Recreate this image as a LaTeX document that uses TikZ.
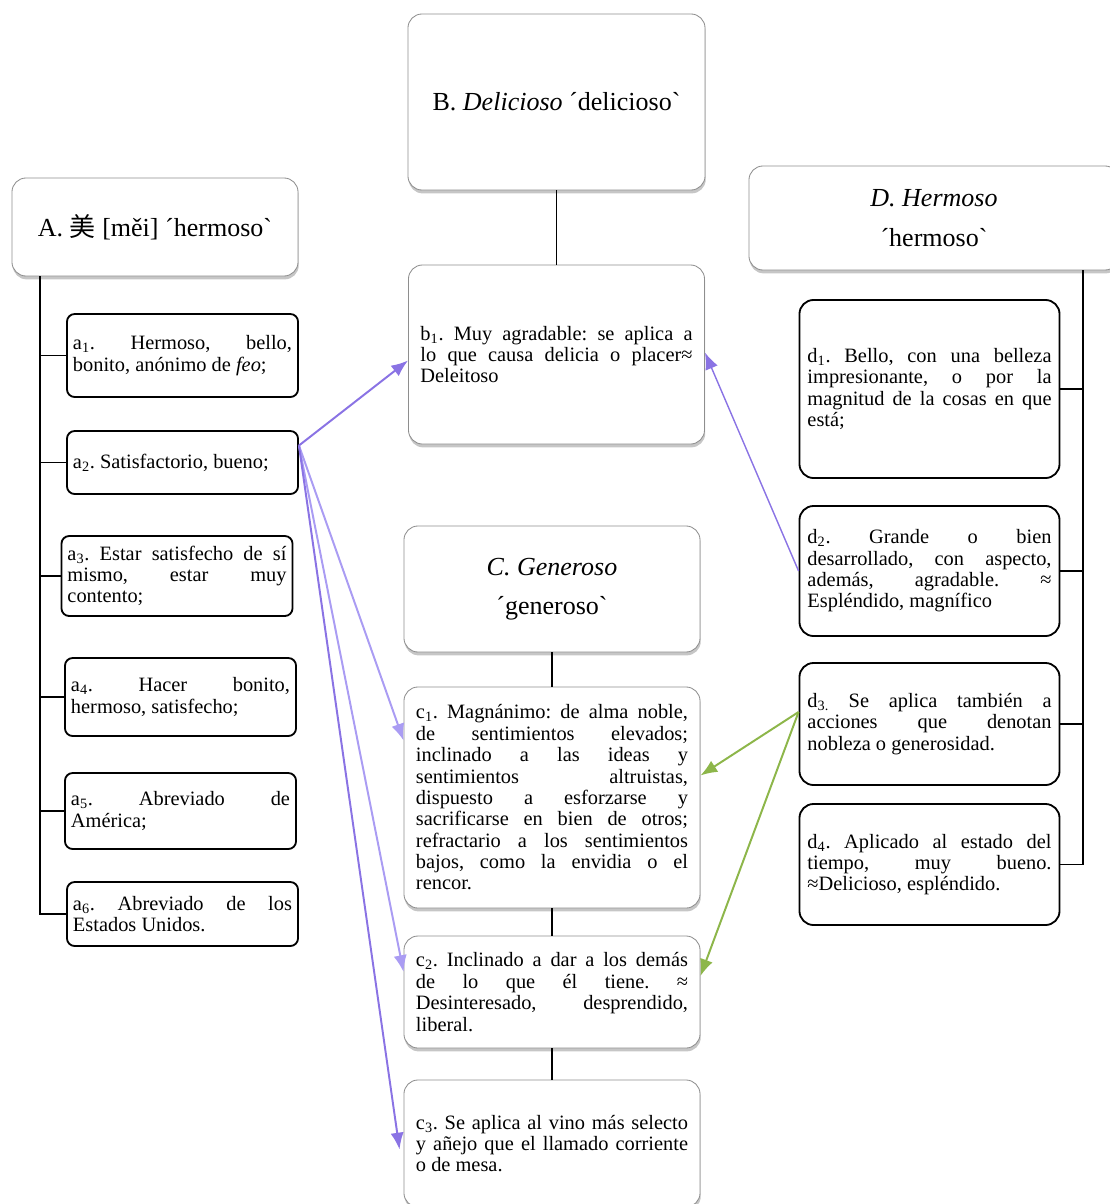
\documentclass[tikz,border=0pt]{standalone}
\usepackage{fontspec}
\setmainfont{Liberation Serif}[Ligatures=TeXOff]
\newfontfamily\cjk{Noto Sans CJK SC}
\usetikzlibrary{arrows.meta,calc,shadows}
\definecolor{frame}{HTML}{8E8E8E}
\definecolor{lilac}{HTML}{8A73E4}
\definecolor{palelilac}{HTML}{AA9CF3}
\definecolor{leaf}{HTML}{8DB64A}
\newcommand\sensefont{\fontsize{14.5pt}{15.2pt}\selectfont\frenchspacing}
\newcommand\headfont{\fontsize{18.5pt}{22pt}\selectfont}
\tikzset{
  headbox/.style={draw=frame,line width=0.6pt,fill=white,rounded corners=10pt,align=center,font=\headfont,
    drop shadow={shadow xshift=0.5pt,shadow yshift=-2.4pt,opacity=0.45}},
  softbox/.style={draw=frame,line width=0.6pt,fill=white,rounded corners=10pt,align=justify,font=\sensefont,
    text width=6.8cm,inner xsep=0.3cm,inner ysep=0pt,
    drop shadow={shadow xshift=0.5pt,shadow yshift=-2.4pt,opacity=0.45}},
  abox/.style={draw=black,line width=1.3pt,fill=white,rounded corners=5.5pt,align=justify,font=\sensefont,
    text width=5.475cm,inner xsep=0.15cm,inner ysep=0pt},
  dbox/.style={draw=black,line width=1.3pt,fill=white,rounded corners=10pt,align=justify,font=\sensefont,
    text width=6.1cm,inner xsep=0.2cm,inner ysep=0pt},
  trunk/.style={draw=black,line width=1.4pt},
  stem/.style={draw=black,line width=1pt},
  lilacflow/.style={-{Latex[length=4.2mm,width=3.3mm]},draw=lilac,line width=1.4pt},
  paleflow/.style={-{Latex[length=4.2mm,width=3.3mm]},draw=palelilac,line width=1.4pt},
  leafflow/.style={-{Latex[length=4.2mm,width=3.3mm]},draw=leaf,line width=1.4pt}}

\begin{document}
\begin{tikzpicture}[x=0.025cm,y=-0.025cm]
  \useasboundingbox (0,0) rectangle (1110,1204);

  % heads
  \node[headbox,minimum width=7.15cm,minimum height=2.45cm] (A) at (155,227)
    {A. {\cjk 美} [měi] ´hermoso`};
  \node[headbox,minimum width=7.425cm,minimum height=4.4cm] (B) at (556.5,102)
    {B. \emph{Delicioso} ´delicioso`};
  \node[headbox,minimum width=7.4cm,minimum height=3.15cm] (C) at (552,589)
    {\emph{C. Generoso}\\[6pt]´generoso`};
  \node[headbox,minimum width=9.25cm,minimum height=2.6cm] (D) at (934,218)
    {\emph{D. Hermoso}\\[6pt]´hermoso`};

  % senses of A
  \node[abox,minimum height=2.075cm] (a1) at (182.5,355.5)
    {a\textsubscript{1}. Hermoso, bello,\linebreak bonito, anónimo de \emph{feo};};
  \node[abox,minimum height=1.575cm] (a2) at (182.5,462.5)
    {a\textsubscript{2}. Satisfactorio, bueno;};
  \node[abox,minimum height=2cm] (a3) at (177,576)
    {a\textsubscript{3}. Estar satisfecho de sí\linebreak mismo, estar muy\linebreak contento;};
  \node[abox,minimum height=1.95cm] (a4) at (180.5,697)
    {a\textsubscript{4}. Hacer bonito,\linebreak hermoso, satisfecho;};
  \node[abox,minimum height=1.9cm] (a5) at (180.5,811)
    {a\textsubscript{5}. Abreviado de\linebreak América;};
  \node[abox,minimum height=1.6cm] (a6) at (182.5,914)
    {a\textsubscript{6}. Abreviado de los\linebreak Estados Unidos.};

  % senses of B and C
  \node[softbox,minimum height=4.475cm] (b1) at (556.5,354.5)
    {b\textsubscript{1}. Muy agradable: se aplica a\linebreak lo que causa delicia o placer≈\linebreak Deleitoso};
  \node[softbox,minimum height=5.525cm] (c1) at (552,797.5)
    {c\textsubscript{1}. Magnánimo: de alma noble,\linebreak de sentimientos elevados;\linebreak
     inclinado a las ideas y\linebreak sentimientos altruistas,\linebreak dispuesto a esforzarse y\linebreak
     sacrificarse en bien de otros;\linebreak refractario a los sentimientos\linebreak
     bajos, como la envidia o el\linebreak rencor.};
  \node[softbox,minimum height=2.8cm] (c2) at (552,992)
    {c\textsubscript{2}. Inclinado a dar a los demás\linebreak de lo que él tiene. ≈\linebreak
     Desinteresado, desprendido,\linebreak liberal.};
  \node[softbox,minimum height=3.175cm] (c3) at (552,1143.5)
    {c\textsubscript{3}. Se aplica al vino más selecto\linebreak y añejo que el llamado corriente\linebreak o de mesa.};

  % senses of D
  \node[dbox,minimum height=4.45cm] (d1) at (929.5,389)
    {d\textsubscript{1}. Bello, con una belleza\linebreak impresionante, o por la\linebreak
     magnitud de la cosas en que\linebreak está;};
  \node[dbox,minimum height=3.25cm] (d2) at (929.5,571)
    {d\textsubscript{2}. Grande o bien\linebreak desarrollado, con aspecto,\linebreak
     además, agradable. ≈\linebreak Espléndido, magnífico};
  \node[dbox,minimum height=3.05cm] (d3) at (929.5,724)
    {d\textsubscript{3.} Se aplica también a\linebreak acciones que denotan\linebreak nobleza o generosidad.};
  \node[dbox,minimum height=3.025cm] (d4) at (929.5,864.5)
    {d\textsubscript{4}. Aplicado al estado del\linebreak tiempo, muy bueno.\linebreak ≈Delicioso, espléndido.};

  % trees
  \coordinate (atrunk) at (40,276);
  \draw[trunk] (atrunk) |- (a6.west);
  \foreach \s in {a1,a2,a3,a4,a5}
    \draw[trunk] (\s.west -| atrunk) -- (\s.west);
  \coordinate (dtrunk) at (1083,270);
  \draw[trunk] (dtrunk) |- (d4.east);
  \foreach \s in {d1,d2,d3}
    \draw[trunk] (\s.east -| dtrunk) -- (\s.east);
  \draw[stem] (B.south -| b1.north) -- (b1.north);
  \draw[stem] (C.south) -- (c1.north);
  \draw[stem] (c1.south) -- (c2.north);
  \draw[stem] (c2.south) -- (c3.north);

  % cross links
  \coordinate (fork) at ($(a2.east)+(0,-17)$);
  \draw[lilacflow] (fork) -- ($(b1.west)+(0,6)$);
  \draw[paleflow] (fork) -- ($(c1.west)+(0,-57)$);
  \draw[paleflow] (fork) -- ($(c2.west)+(0,-20)$);
  \draw[lilacflow] (fork) -- ($(c3.west)+(-4,6)$);
  \draw[lilacflow,line width=1pt] (d2.west) -- ($(b1.east)+(0,-2)$);
  \coordinate (spur) at ($(d3.west)+(0,-12)$);
  \draw[leafflow] (spur) -- ($(c1.east)+(0,-22)$);
  \draw[leafflow] (spur) -- ($(c2.east)+(0,-16)$);
\end{tikzpicture}
\end{document}
